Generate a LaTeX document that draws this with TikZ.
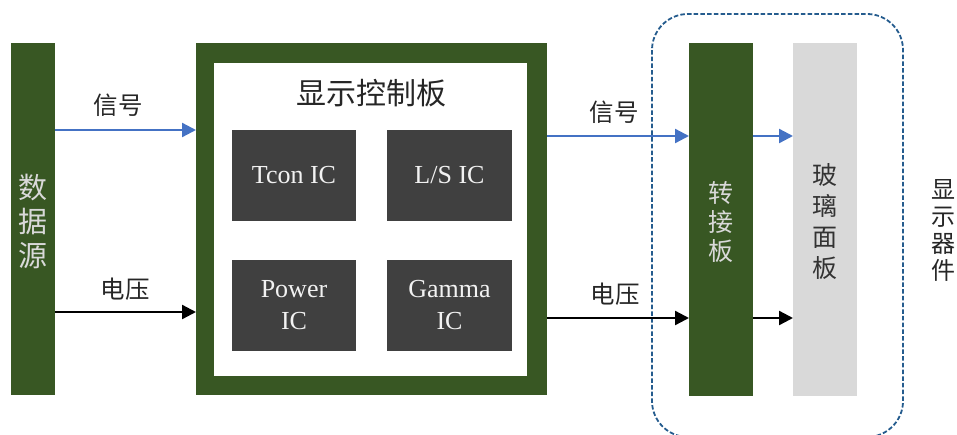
\documentclass[tikz,border=0pt]{standalone}
\usepackage{fontspec}
\setmainfont{Liberation Serif}
\newfontfamily\cjk{Noto Sans CJK SC}
\usetikzlibrary{arrows.meta}
\definecolor{dgreen}{HTML}{385723}
\definecolor{icgray}{HTML}{404040}
\definecolor{lgray}{HTML}{D9D9D9}
\definecolor{sigblue}{HTML}{4472C4}
\definecolor{dashblue}{HTML}{255C8E}
\begin{document}
\begin{tikzpicture}[x=1pt,y=-1pt,
  box/.style={rectangle,inner sep=0pt,outer sep=0pt,draw=none},
  greenbar/.style={box,fill=dgreen},
  icbox/.style={box,fill=icgray,minimum width=124.5pt,minimum height=91pt,
    text=white!95!black,align=center,font=\fontsize{26}{32}\selectfont},
  vtext/.style={align=center,inner sep=0pt},
  lbl/.style={inner sep=0pt,font=\cjk\fontsize{24.5}{28}\selectfont,text=black!85},
  sig/.style={draw=sigblue,line width=2.3pt,-{Triangle[length=14pt,width=14pt]}},
  volt/.style={draw=black,line width=2.3pt,-{Triangle[length=14pt,width=14pt]}},
  grp/.style={draw=dashblue,line width=1.8pt,dash pattern=on 4.5pt off 2.2pt,rounded corners=36pt}
]
\useasboundingbox (0,0) rectangle (957,434);

% data source
\node[greenbar,minimum width=44pt,minimum height=352pt] (src) at (33,219) {};
\node[vtext,text=lgray,font=\cjk\fontsize{29}{34}\selectfont] (srct) at (33,221) {数\\据\\源};

% control board
\node[greenbar,minimum width=351pt,minimum height=352pt] (ctrl) at (371.5,219) {};
\node[box,fill=white,minimum width=313pt,minimum height=313pt] (ctrlin) at (370.5,219.5) {};
\node[lbl,font=\cjk\fontsize{30}{34}\selectfont] (title) at (371,93) {显示控制板};

\node[icbox] (tcon) at (294,175.5) {Tcon IC};
\node[icbox] (ls) at (449.5,175.5) {L/S IC};
\node[icbox] (pwr) at (294,305.5) {Power\\IC};
\node[icbox] (gam) at (449.5,305.5) {Gamma\\IC};

% adapter board and glass panel
\node[greenbar,minimum width=64pt,minimum height=353pt] (adp) at (721,219.5) {};
\node[vtext,text=lgray,font=\cjk\fontsize{25}{29}\selectfont] (adpt) at (721,222) {转\\接\\板};
\node[box,fill=lgray,minimum width=64pt,minimum height=353pt] (glass) at (825,219.5) {};
\node[vtext,text=black!80,font=\cjk\fontsize{25}{31}\selectfont] (glasst) at (825,222) {玻\\璃\\面\\板};

% display device group
\begin{scope}
\clip (0,0) rectangle (957,434);
\draw[grp] (652,14) rectangle (903,437);
\end{scope}
\node[vtext,text=black!85,font=\cjk\fontsize{24}{27}\selectfont] (dev) at (943,230) {显\\示\\器\\件};

% connectors
\coordinate (y1) at (0,130);
\coordinate (y2) at (0,312);
\coordinate (y3) at (0,136);
\coordinate (y4) at (0,318);
\draw[sig] (src.east |- y1) -- (ctrl.west |- y1);
\draw[volt] (src.east |- y2) -- (ctrl.west |- y2);
\draw[sig] (ctrl.east |- y3) -- (adp.west |- y3);
\draw[volt] (ctrl.east |- y4) -- (adp.west |- y4);
\draw[sig] (adp.east |- y3) -- (glass.west |- y3);
\draw[volt] (adp.east |- y4) -- (glass.west |- y4);

% labels
\node[lbl] (s1) at (118,105) {信号};
\node[lbl] (v1) at (125,289) {电压};
\node[lbl] (s2) at (614,112) {信号};
\node[lbl] (v2) at (615,294) {电压};
\end{tikzpicture}
\end{document}
